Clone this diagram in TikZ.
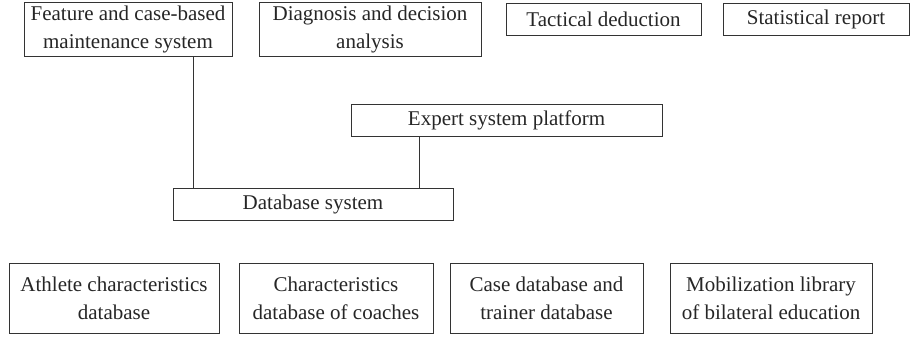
\documentclass[tikz,border=0pt]{standalone}
\usepackage{fontspec}
\setmainfont{Liberation Serif}
\usepackage{tikz}
\usetikzlibrary{positioning,calc}

\begin{document}
\begin{tikzpicture}[x=0.5pt, y=-0.5pt,
        box/.style={draw=black!80, line width=0.5pt, inner sep=0pt, align=center,
            font=\fontsize{10.5}{14}\selectfont, text=black!85}]
            \useasboundingbox (0,0) rectangle (910,339);
            % top row
            \node[box, minimum width=104pt, minimum height=27pt] (feature) at (128,29) {Feature and case-based\\maintenance system};
            \node[box, minimum width=111pt, minimum height=27pt] (diagnosis) at (370,29) {Diagnosis and decision\\analysis};
            \node[box, minimum width=97.5pt, minimum height=16pt] (tactical) at (603.5,19) {Tactical deduction};
            \node[box, minimum width=93pt, minimum height=16pt] (report) at (816,19) {Statistical report};
            % middle
            \node[box, minimum width=155.5pt, minimum height=16pt] (platform) at (506.5,120) {Expert system platform};
            \node[box, minimum width=140pt, minimum height=16pt] (dbsystem) at (313,204) {Database system};
            % bottom row
            \node[box, minimum width=105pt, minimum height=35pt] (athlete) at (114,298) {Athlete characteristics\\database};
            \node[box, minimum width=97pt, minimum height=35pt] (coaches) at (336,298) {Characteristics\\database of coaches};
            \node[box, minimum width=96.5pt, minimum height=35pt] (casedb) at (546.5,298) {Case database and\\trainer database};
            \node[box, minimum width=101pt, minimum height=35pt] (bilateral) at (771,298) {Mobilization library\\of bilateral education};
            % links
            \draw[black!80, line width=0.5pt] ([xshift=32.5pt]feature.south) -- ([xshift=32.5pt]feature.south |- dbsystem.north);
            \draw[black!80, line width=0.5pt] ([xshift=-43.75pt]platform.south) -- ([xshift=-43.75pt]platform.south |- dbsystem.north);
        \end{tikzpicture}
\end{document}
